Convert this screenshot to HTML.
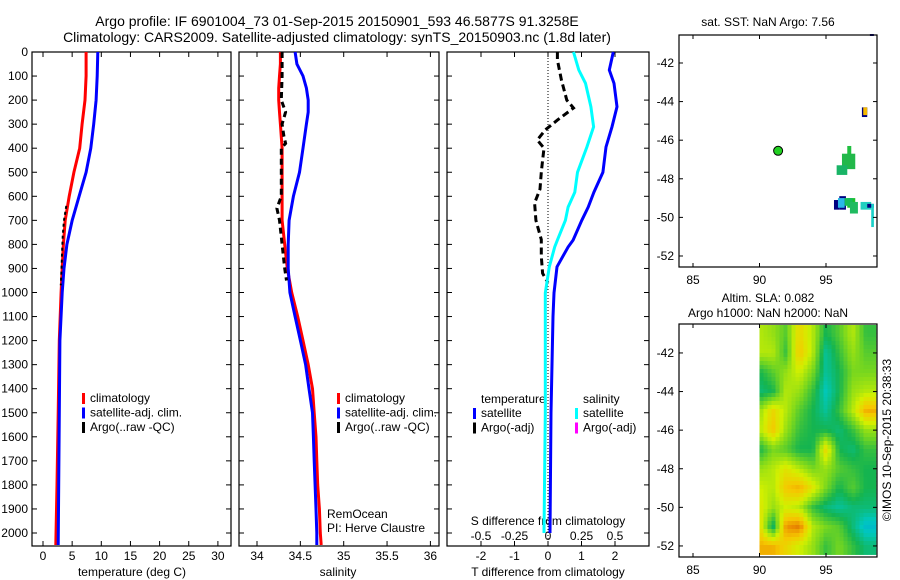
<!DOCTYPE html>
<html><head><meta charset="utf-8"><style>
body{margin:0;background:#fff;}
svg{display:block;font-family:"Liberation Sans",sans-serif;}
text{fill:#000;}
</style></head><body>
<svg id="fig" width="900" height="580" viewBox="0 0 900 580"></svg>
<script>
// ---------- data ----------
const depthsT = [0,100,200,300,400,500,600,700,800,900,1000,1200,1500,1800,2050];
const tempClim = [7.4,7.4,7.2,6.7,6.3,5.3,4.5,3.8,3.5,3.3,3.1,2.8,2.6,2.4,2.2];
const tempSat = [9.4,9.3,9.1,8.7,8.2,7.4,6.2,5.0,4.1,3.6,3.3,2.9,2.8,2.7,2.6];
const depthsArgoT = [640,700,760,820,880,940,970];
const tempArgo = [4.0,3.6,3.4,3.3,3.2,3.1,3.05];

const depthsS = [0,50,100,150,200,250,300,400,500,600,700,800,900,1000,1100,1200,1300,1400,1500,1600,1700,1800,1900,2000,2050];
const salClim = [34.27,34.27,34.26,34.25,34.25,34.26,34.27,34.29,34.29,34.29,34.29,34.32,34.35,34.40,34.47,34.53,34.59,34.64,34.66,34.68,34.69,34.70,34.72,34.73,34.74];
const salSat = [34.44,34.46,34.53,34.57,34.59,34.59,34.57,34.53,34.49,34.42,34.37,34.36,34.36,34.38,34.44,34.50,34.56,34.60,34.64,34.65,34.66,34.67,34.68,34.69,34.69];
const depthsArgoS = [0,100,200,250,300,350,380,400,500,600,650,700,800,900,950];
const salArgo = [34.29,34.29,34.28,34.33,34.29,34.31,34.33,34.28,34.28,34.28,34.23,34.26,34.29,34.32,34.34];

const depthsDiff = [0,75,130,228,311,395,500,583,645,700,782,811,893,1002,1100,1500,2000];
const tDiffSat = [1.95,1.83,1.97,2.06,1.91,1.73,1.64,1.37,1.2,1.01,0.75,0.6,0.27,0.18,0.15,0.09,0.06];
const sDiffSat = [0.19,0.23,0.28,0.32,0.34,0.29,0.22,0.2,0.15,0.13,0.07,0.05,0.01,-0.02,-0.02,-0.02,-0.03];
const depthsArgoD = [0,33,116,200,233,283,324,366,400,450,500,570,628,700,780,850,920,960];
const sDiffArgo = [0.07,0.07,0.10,0.14,0.19,0.07,-0.02,-0.08,-0.03,-0.04,-0.05,-0.06,-0.1,-0.09,-0.05,-0.05,-0.04,0.0];

const depthTicks = [0,100,200,300,400,500,600,700,800,900,1000,1100,1200,1300,1400,1500,1600,1700,1800,1900,2000];
const tempTicks = [0,5,10,15,20,25,30];
const salTicks = [34,34.5,35,35.5,36];
const salTickLabels = ["34","34.5","35","35.5","36"];
const tDiffTicks = [-2,-1,0,1,2];
const sDiffTicks = [-0.5,-0.25,0,0.25,0.5];
const sDiffTickLabels = ["-0.5","-0.25","0","0.25","0.5"];
const lonTicks = [85,90,95];
const latTicks = [-42,-44,-46,-48,-50,-52];

const argoLon = 91.4, argoLat = -46.55;
const sstPatchLon0 = [98.3,97.7,97.8,96.6,96.2,95.8,96.0,96.6,95.6,95.9,96.4,96.8,97.6,98.1,98.4];
const sstPatchLon1 = [98.6,98.1,98.1,96.9,97.2,96.6,96.5,97.2,96.0,96.4,97.0,97.4,98.4,98.6,98.6];
const sstPatchLatTop = [-40.5,-44.3,-44.3,-46.3,-46.7,-47.3,-48.9,-49.0,-49.1,-49.0,-49.0,-49.2,-49.2,-49.3,-49.3];
const sstPatchLatBot = [-40.6,-44.8,-44.7,-47.3,-47.5,-47.8,-49.6,-49.5,-49.6,-49.5,-49.4,-49.8,-49.6,-49.5,-50.5];
const sstPatchColor = ["#000080","#000080","#f5b800","#1fbf3f","#22b84a","#19b466","#000080","#1cc02c","#000080","#2ab8e8","#16bc58","#20bb60","#22cfc0","#000080","#1ad0c8"];

const slaLats = [-41,-42,-43,-44,-45,-46,-47,-48,-49,-50,-51,-52];
const slaLons = [90,91,92,93,94,95,96,97,98];
const slaRow0 = [0.6,0.55,0.45,0.75,0.6,0.35,0.45,0.6,0.4];
const slaRow1 = [0.6,0.6,0.4,0.8,0.6,0.25,0.4,0.55,0.45];
const slaRow2 = [0.35,0.45,0.55,0.65,0.5,0.25,0.35,0.5,0.5];
const slaRow3 = [0.3,0.35,0.6,0.55,0.4,0.2,0.35,0.55,0.6];
const slaRow4 = [0.55,0.75,0.6,0.45,0.35,0.25,0.4,0.6,0.85];
const slaRow5 = [0.6,0.8,0.55,0.4,0.35,0.35,0.3,0.4,0.55];
const slaRow6 = [0.35,0.5,0.45,0.35,0.35,0.75,0.35,0.3,0.4];
const slaRow7 = [0.55,0.6,0.7,0.6,0.5,0.55,0.45,0.4,0.35];
const slaRow8 = [0.65,0.6,0.8,0.85,0.7,0.5,0.35,0.45,0.35];
const slaRow9 = [0.7,0.55,0.65,0.6,0.4,0.3,0.25,0.3,0.3];
const slaRow10 = [0.75,0.3,0.9,0.95,0.6,0.5,0.45,0.3,0.15];
const slaRow11 = [0.85,0.85,0.75,0.65,0.55,0.4,0.5,0.4,0.3];
const slaGrid = [slaRow0,slaRow1,slaRow2,slaRow3,slaRow4,slaRow5,slaRow6,slaRow7,slaRow8,slaRow9,slaRow10,slaRow11];

// ---------- helpers ----------
const NS = "http://www.w3.org/2000/svg";
const svg = document.getElementById("fig");
function mk(tag, attrs, parent){ const e=document.createElementNS(NS,tag); for(const k in attrs) e.setAttribute(k,attrs[k]); (parent||svg).appendChild(e); return e; }
function txt(x,y,s,anchor,size,parent){ const t=mk("text",{x:x,y:y,"text-anchor":anchor||"middle","font-size":size||12},parent); t.textContent=s; return t; }

const yTop=52, yBot=546;
const yD = d => 52 + d*0.2405;
const xT = v => 43 + v*5.83;
const xS = v => 257 + (v-34)*86.7;
const xTd = v => 548 + v*33.5;
const xSd = v => 548 + v*134;

function profile(xs, ds, xf, color, w, dash, name){
  const pts = xs.map((v,i)=> xf(v).toFixed(1)+","+yD(ds[i]).toFixed(1)).join(" ");
  const p = mk("polyline",{points:pts,fill:"none",stroke:color,"stroke-width":w,"stroke-dasharray":dash||"none"});
  
  
  return p;
}

function panel(x0,x1,name){
  const g = mk("g",{});
  
  
  mk("rect",{x:x0,y:yTop,width:x1-x0,height:yBot-yTop,fill:"none",stroke:"#000","stroke-width":1.2},g);
  depthTicks.forEach(d=>{
    mk("line",{x1:x0,x2:x0+5,y1:yD(d),y2:yD(d),stroke:"#000"},g);
    mk("line",{x1:x1,x2:x1-5,y1:yD(d),y2:yD(d),stroke:"#000"},g);
  });
  return g;
}

const t1 = txt(337,26,"Argo profile: IF 6901004_73 01-Sep-2015 20150901_593 46.5877S 91.3258E","middle",14);


const t2 = txt(337,42,"Climatology: CARS2009. Satellite-adjusted climatology: synTS_20150903.nc (1.8d later)","middle",14);



depthTicks.forEach(d=>{
  const l = txt(28,yD(d)+4,String(d),"end",12);
  
  
});

// ---------- panel 1 ----------
const g1 = panel(32,231,"temperature-panel");
tempTicks.forEach(v=>{
  mk("line",{x1:xT(v),x2:xT(v),y1:yBot,y2:yBot-5,stroke:"#000"},g1);
  mk("line",{x1:xT(v),x2:xT(v),y1:yTop,y2:yTop+5,stroke:"#000"},g1);
  const l=txt(xT(v),560,String(v),"middle",12,g1);
  
  
});
txt(132,576,"temperature (deg C)","middle",12,g1);
profile(tempClim,depthsT,xT,"#f00",3,null,"climatology-temperature-line");
profile(tempSat,depthsT,xT,"#00f",3,null,"satellite-temperature-line");
profile(tempArgo,depthsArgoT,xT,"#000",2,"3,3","argo-temperature-line");

function legend(x,y,items,parent,nm){
  const g=mk("g",{},parent);
  
  
  items.forEach((it,i)=>{
    mk("rect",{x:x,y:y+i*14.5-9,width:3,height:11,fill:it[1]},g);
    txt(x+8,y+i*14.5,it[0],"start",12,g);
  });
}
legend(82,402,[["climatology","#f00"],["satellite-adj. clim.","#00f"],["Argo(..raw -QC)","#000"]],g1,"temperature-legend");

// ---------- panel 2 ----------
const g2 = panel(239,439,"salinity-panel");
salTicks.forEach((v,i)=>{
  mk("line",{x1:xS(v),x2:xS(v),y1:yBot,y2:yBot-5,stroke:"#000"},g2);
  mk("line",{x1:xS(v),x2:xS(v),y1:yTop,y2:yTop+5,stroke:"#000"},g2);
  const l=txt(xS(v),560,salTickLabels[i],"middle",12,g2);
  
  
});
txt(338,576,"salinity","middle",12,g2);
profile(salClim,depthsS,xS,"#f00",3,null,"climatology-salinity-line");
profile(salSat,depthsS,xS,"#00f",3,null,"satellite-salinity-line");
profile(salArgo,depthsArgoS,xS,"#000",3,"6,4","argo-salinity-line");
legend(337,402,[["climatology","#f00"],["satellite-adj. clim.","#00f"],["Argo(..raw -QC)","#000"]],g2,"salinity-legend");
txt(327,518,"RemOcean","start",12,g2);
txt(327,532,"PI: Herve Claustre","start",12,g2);

// ---------- panel 3 ----------
const g3 = panel(447,649,"difference-panel");
mk("line",{x1:548,x2:548,y1:yTop,y2:yBot,stroke:"#000","stroke-dasharray":"1,2"},g3);
tDiffTicks.forEach(v=>{
  mk("line",{x1:xTd(v),x2:xTd(v),y1:yBot,y2:yBot-5,stroke:"#000"},g3);
  mk("line",{x1:xTd(v),x2:xTd(v),y1:yTop,y2:yTop+5,stroke:"#000"},g3);
  const l=txt(xTd(v),560,String(v),"middle",12,g3);
  
  
});
sDiffTicks.forEach((v,i)=>{
  const l=txt(xSd(v),540,sDiffTickLabels[i],"middle",12,g3);
  
  
});
txt(548,525,"S difference from climatology","middle",12,g3);
txt(548,576,"T difference from climatology","middle",12,g3);
profile(sDiffArgo,depthsArgoD,xSd,"#000",3,"7,4","argo-salinity-diff-line");
profile(sDiffSat,depthsDiff,xSd,"#0ff",3,null,"satellite-salinity-diff-line");
profile(tDiffSat,depthsDiff,xTd,"#00f",3,null,"satellite-temperature-diff-line");
const g3l=mk("g",{},g3);


txt(481,403,"temperature","start",12,g3l);
txt(583,403,"salinity","start",12,g3l);
[["satellite","#00f",473],["Argo(-adj)","#000",473],["satellite","#0ff",575],["Argo(-adj)","#f0f",575]].forEach((it,i)=>{
  const y = 417 + (i%2)*14.5;
  mk("rect",{x:it[2],y:y-9,width:3,height:11,fill:it[1]},g3l);
  txt(it[2]+8,y,it[0],"start",12,g3l);
});

// ---------- maps ----------
function mapAxes(top,bot,latTop,name){
  const g=mk("g",{});
  
  
  const xL = v => 693 + (v-85)*13.3;
  const yL = v => top + (latTop - v)*19.3;
  return {g,xL,yL,top,bot};
}
function mapFrame(m){
  mk("rect",{x:679,y:m.top,width:198,height:m.bot-m.top,fill:"none",stroke:"#000","stroke-width":1.2},m.g);
  lonTicks.forEach(v=>{
    mk("line",{x1:m.xL(v),x2:m.xL(v),y1:m.bot,y2:m.bot-4,stroke:"#000"},m.g);
    mk("line",{x1:m.xL(v),x2:m.xL(v),y1:m.top,y2:m.top+4,stroke:"#000"},m.g);
    const l=txt(m.xL(v),m.bot+17,String(v),"middle",12,m.g);
    
    
  });
  latTicks.forEach(v=>{
    mk("line",{x1:679,x2:683,y1:m.yL(v),y2:m.yL(v),stroke:"#000"},m.g);
    mk("line",{x1:877,x2:873,y1:m.yL(v),y2:m.yL(v),stroke:"#000"},m.g);
    const l=txt(674,m.yL(v)+4,String(v),"end",12,m.g);
    
    
  });
}
const m1 = mapAxes(35,267,-40.55,"sst-map");
txt(768,26,"sat. SST: NaN Argo: 7.56","middle",12,m1.g);
sstPatchLon0.forEach((v,i)=>{
  const r=mk("rect",{x:m1.xL(v),y:m1.yL(sstPatchLatTop[i]),width:(sstPatchLon1[i]-v)*13.3,height:(sstPatchLatTop[i]-sstPatchLatBot[i])*19.3,fill:sstPatchColor[i]},m1.g);
  
  
});
const dot=mk("circle",{cx:m1.xL(argoLon),cy:m1.yL(argoLat),r:4.5,fill:"#22d022",stroke:"#000","stroke-width":1},m1.g);


mapFrame(m1);

const m2 = mapAxes(324,557,-40.5,"sla-map");
txt(768,302,"Altim. SLA: 0.082","middle",12,m2.g);
txt(768,317,"Argo h1000: NaN h2000: NaN","middle",12,m2.g);
function cmap(v){
  const stops=[[0,[0,150,230]],[0.2,[0,200,190]],[0.35,[20,180,80]],[0.5,[120,215,30]],[0.65,[210,240,0]],[0.8,[245,200,0]],[0.92,[235,140,0]],[1,[210,100,0]]];
  for(let i=1;i<stops.length;i++){ if(v<=stops[i][0]){ const a=stops[i-1],b=stops[i],f=(v-a[0])/(b[0]-a[0]); return "rgb("+a[1].map((c,k)=>Math.round(c+(b[1][k]-c)*f)).join(",")+")"; } }
  return "rgb(210,100,0)";
}
// bilinear sampling of the grid into fine cells
function sample(lon,lat){
  let fc = Math.max(0, Math.min(slaLons.length-1.0001, lon - slaLons[0]));
  let fr = Math.max(0, Math.min(slaLats.length-1.0001, slaLats[0] - lat));
  const c0=Math.floor(fc), r0=Math.floor(fr), dc=fc-c0, dr=fr-r0;
  const g=slaGrid;
  return g[r0][c0]*(1-dc)*(1-dr)+g[r0][c0+1]*dc*(1-dr)+g[r0+1][c0]*(1-dc)*dr+g[r0+1][c0+1]*dc*dr;
}
const sub=4;
const xStart=m2.xL(90), xEnd=876, yStart=m2.top+1, yEnd=m2.yL(-52.45);
for(let yy=yStart; yy<yEnd; yy+=sub){
  for(let xx=xStart; xx<xEnd; xx+=sub){
    const lon = 85 + (xx+sub/2-693)/13.3;
    const lat = -40.5 - (yy+sub/2-m2.top)/19.3;
    const c=mk("rect",{x:xx,y:yy,width:Math.min(sub,xEnd-xx)+0.3,height:Math.min(sub,yEnd-yy)+0.3,fill:cmap(sample(lon,lat))},m2.g);
    
    
  }
}
mapFrame(m2);

const stamp = mk("text",{x:0,y:0,"font-size":12,"text-anchor":"middle",transform:"translate(891,440) rotate(-90)"});
stamp.textContent="©IMOS 10-Sep-2015 20:38:33";


</script>
</body></html>
